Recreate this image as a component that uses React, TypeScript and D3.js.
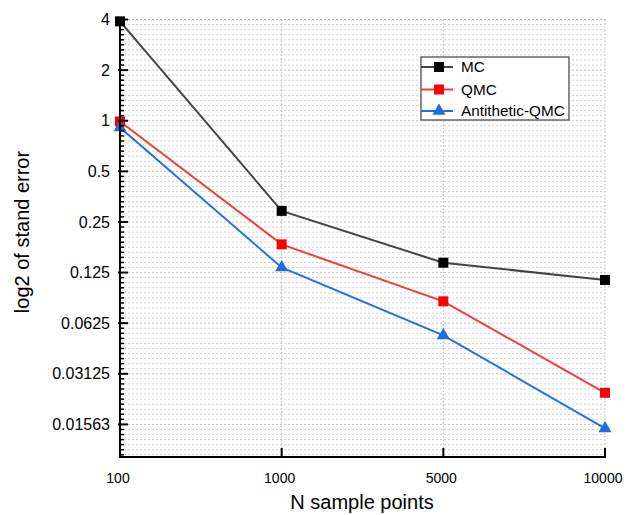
import React from "react";
import * as d3 from "d3";

const categories = ["100", "1000", "5000", "10000"];
const mcValues = [3.9, 0.291, 0.143, 0.113];
const qmcValues = [0.99, 0.184, 0.0843, 0.0241];
const antiValues = [0.911, 0.134, 0.0529, 0.0148];
const yTickValues = [4, 2, 1, 0.5, 0.25, 0.125, 0.0625, 0.03125, 0.015625];
const yTickLabels = ["4", "2", "1", "0.5", "0.25", "0.125", "0.0625", "0.03125", "0.01563"];
const seriesNames = ["MC", "QMC", "Antithetic-QMC"];

const W = 627;
const H = 515;
const left = 120;
const right = 605;
const top = 19.5;
const bottom = 457;
const FONT = "'Liberation Sans', Arial, sans-serif";

export default function App() {
  const x = d3.scalePoint<string>().domain(categories).range([left, right]).padding(0);
  const y = d3.scaleLog().base(2).domain([0.01, 4]).range([bottom, top]);

  // minor ticks: 9 evenly spaced (in log space) between majors, extending down to domain min
  const minor: number[] = [];
  const lmin = Math.log2(0.01);
  for (let e = 2; e > lmin - 1; e--) {
    for (let k = 1; k <= 9; k++) {
      const l = e - k / 10;
      if (l > lmin) minor.push(Math.pow(2, l));
    }
  }

  const series = [
    { name: seriesNames[0], values: mcValues, line: "#444444", fill: "#000000", shape: "square" },
    { name: seriesNames[1], values: qmcValues, line: "#f23c3c", fill: "#ff0000", shape: "square" },
    { name: seriesNames[2], values: antiValues, line: "#1f72e0", fill: "#1a6fdc", shape: "triangle" },
  ];

  const lineGen = d3
    .line<number>()
    .x((_, i) => x(categories[i]) as number)
    .y((v) => y(v));

  const marker = (shape: string, cx: number, cy: number, fill: string, key: string) => {
    if (shape === "square") {
      return <rect key={key} x={cx - 5} y={cy - 5} width={10} height={10} fill={fill} />;
    }
    const s = 13;
    const h = s * 0.87;
    return (
      <path
        key={key}
        d={`M${cx},${cy - (2 * h) / 3} L${cx + s / 2},${cy + h / 3} L${cx - s / 2},${cy + h / 3} Z`}
        fill={fill}
      />
    );
  };

  const legendX = 421;
  const legendY = 57;
  const legendRows = [67, 89.5, 111];

  return (
    <svg width={W} height={H} style={{ position: "absolute", left: 0, top: 0, background: "#fff" }} fontFamily={FONT}>
      <rect x={0} y={0} width={W} height={H} fill="#fff" />
      {/* horizontal grid */}
      {minor.map((v, i) => (
        <line key={"mg" + i} x1={left} x2={right} y1={y(v)} y2={y(v)} stroke="#d0d0d0" strokeWidth={1} strokeDasharray="2,2" />
      ))}
      {yTickValues.map((v, i) => (
        <line key={"Mg" + i} x1={left} x2={right} y1={y(v)} y2={y(v)} stroke="#bdbdbd" strokeWidth={1} strokeDasharray="2,2" />
      ))}
      {/* vertical grid */}
      {categories.slice(1).map((c) => (
        <line key={"vg" + c} x1={x(c)} x2={x(c)} y1={top} y2={bottom} stroke="#b5b5b5" strokeWidth={1} strokeDasharray="1.5,2" />
      ))}

      {/* series */}
      {series.map((s) => (
        <g key={s.name}>
          <path d={lineGen(s.values) || ""} fill="none" stroke={s.line} strokeWidth={2} />
          {s.values.map((v, i) => marker(s.shape, x(categories[i]) as number, y(v), s.fill, s.name + i))}
        </g>
      ))}

      {/* axes */}
      <line x1={left} x2={left} y1={top - 2} y2={bottom + 1} stroke="#000" strokeWidth={2} />
      <line x1={left - 1} x2={right + 1} y1={bottom} y2={bottom} stroke="#000" strokeWidth={2} />
      {minor.map((v, i) => (
        <line key={"mt" + i} x1={left} x2={left + 4} y1={y(v)} y2={y(v)} stroke="#000" strokeWidth={1.5} />
      ))}
      {yTickValues.map((v, i) => (
        <g key={"yt" + i}>
          <line x1={left - 2} x2={left + 8} y1={y(v)} y2={y(v)} stroke="#000" strokeWidth={2} />
          <text x={110} y={y(v)} dy="0.35em" textAnchor="end" fontSize={16} fill="#000">
            {yTickLabels[i]}
          </text>
        </g>
      ))}
      {categories.map((c, i) => (
        <g key={"xt" + c}>
          {i > 0 && <line x1={x(c)} x2={x(c)} y1={bottom} y2={bottom - 9} stroke="#000" strokeWidth={2} />}
          <text x={(x(c) as number) - 2} y={483} textAnchor="middle" fontSize={14} fill="#000">
            {c}
          </text>
        </g>
      ))}

      {/* axis titles */}
      <text x={362} y={509} textAnchor="middle" fontSize={20} fill="#000">
        N sample points
      </text>
      <text transform={`translate(29,232) rotate(-90)`} textAnchor="middle" fontSize={20} fill="#000">
        log2 of stand error
      </text>

      {/* legend */}
      <rect x={legendX} y={legendY} width={148} height={63} fill="#fff" stroke="#666" strokeWidth={1.5} />
      {series.map((s, i) => (
        <g key={"lg" + s.name}>
          <line x1={legendX} x2={legendX + 32} y1={legendRows[i]} y2={legendRows[i]} stroke={s.line} strokeWidth={2} />
          {marker(s.shape, legendX + 18, legendRows[i], s.fill, "lm" + i)}
          <text x={461} y={legendRows[i]} dy="0.35em" fontSize={15.3} fill="#000">
            {s.name}
          </text>
        </g>
      ))}
    </svg>
  );
}
